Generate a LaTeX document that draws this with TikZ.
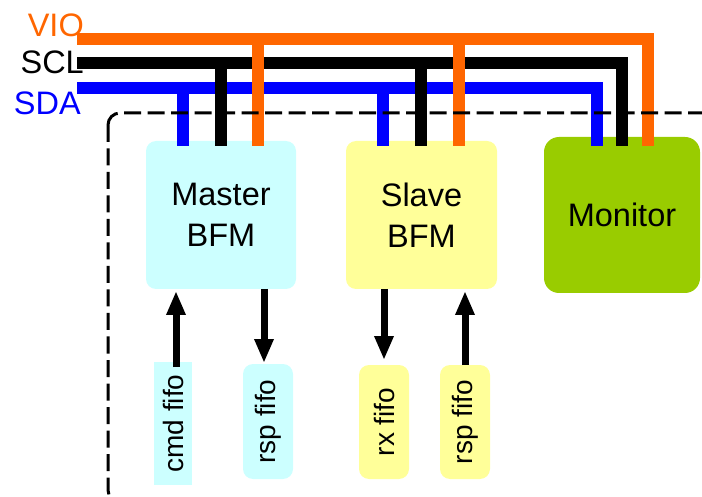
\documentclass[tikz,border=0pt]{standalone}
\usepackage{fontspec}
\setmainfont{Liberation Sans}
\usetikzlibrary{arrows.meta}
\definecolor{vio}{HTML}{FF6600}
\definecolor{sda}{HTML}{0000FF}
\definecolor{mcyan}{HTML}{CCFFFF}
\definecolor{syel}{HTML}{FFFF99}
\definecolor{mgreen}{HTML}{99CC00}
\begin{document}
\begin{tikzpicture}[x=1pt,y=-1pt,
 bfm/.style={rectangle, rounded corners=10pt, inner sep=0pt, align=center, font=\fontsize{32.5}{41}\selectfont},
 fifo/.style={rectangle, rounded corners=10pt, inner sep=0pt, rotate=90, font=\fontsize{28}{30}\selectfont},
 lbl/.style={anchor=east, inner sep=0pt, font=\fontsize{32.5}{38}\selectfont},
 bus/.style={line width=12pt, line join=miter},
 flow/.style={line width=7pt, -{Triangle[width=18pt,length=24pt]}},
 frame/.style={line width=3pt, dash pattern=on 17pt off 6.5pt, rounded corners=12pt},
]
\useasboundingbox (0,0) rectangle (702,497);
\begin{scope}
\clip (0,0) rectangle (702,497);

% blocks
\node[bfm, fill=mcyan, minimum width=150pt, minimum height=148pt] (master) at (221,215) {Master\\BFM};
\node[bfm, fill=syel, minimum width=151pt, minimum height=148pt] (slave) at (421.5,215) {Slave\\BFM};
\node[bfm, fill=mgreen, rounded corners=15pt, minimum width=156pt, minimum height=156pt] (monitor) at (622,215) {Monitor};

% fifos
\node[fifo, fill=mcyan, rounded corners=0pt, minimum width=123pt, minimum height=38pt] (cmd) at (173,423.5) {cmd fifo};
\node[fifo, fill=mcyan, minimum width=115pt, minimum height=50pt] (rspm) at (268,421.5) {rsp fifo};
\node[fifo, fill=syel, minimum width=114pt, minimum height=50pt] (rx) at (384,422) {rx fifo};
\node[fifo, fill=syel, minimum width=114pt, minimum height=50pt] (rsps) at (465,422) {rsp fifo};

% flow arrows
\coordinate (c1) at (176,367);
\coordinate (c1t) at (176,291);
\draw[flow] (c1) -- (c1t);
\coordinate (r1s) at (264,289);
\coordinate (r1e) at (264,363);
\draw[flow] (r1s) -- (r1e);
\coordinate (x1s) at (384,289);
\coordinate (x1e) at (384,360);
\draw[flow] (x1s) -- (x1e);
\coordinate (s1s) at (465,365);
\coordinate (s1e) at (465,291);
\draw[flow] (s1s) -- (s1e);

% bus labels
\node[lbl, text=vio] (viol) at (84,25) {VIO};
\node[lbl, text=black] (scll) at (84,62) {SCL};
\node[lbl, text=sda] (sdal) at (81,103.5) {SDA};

% buses
\draw[bus, sda] (77,88) -- (597,88) -- (597,146);
\draw[bus, sda] (183,88) -- (183,146);
\draw[bus, sda] (383,88) -- (383,146);
\draw[bus, black] (77,63) -- (622,63) -- (622,146);
\draw[bus, black] (221,63) -- (221,146);
\draw[bus, black] (421,63) -- (421,146);
\draw[bus, vio] (77,39) -- (648,39) -- (648,146);
\draw[bus, vio] (258,39) -- (258,146);
\draw[bus, vio] (459,39) -- (459,146);

% dashed frame
\draw[frame] (108,113) rectangle (760,502);
\end{scope}
\end{tikzpicture}
\end{document}
